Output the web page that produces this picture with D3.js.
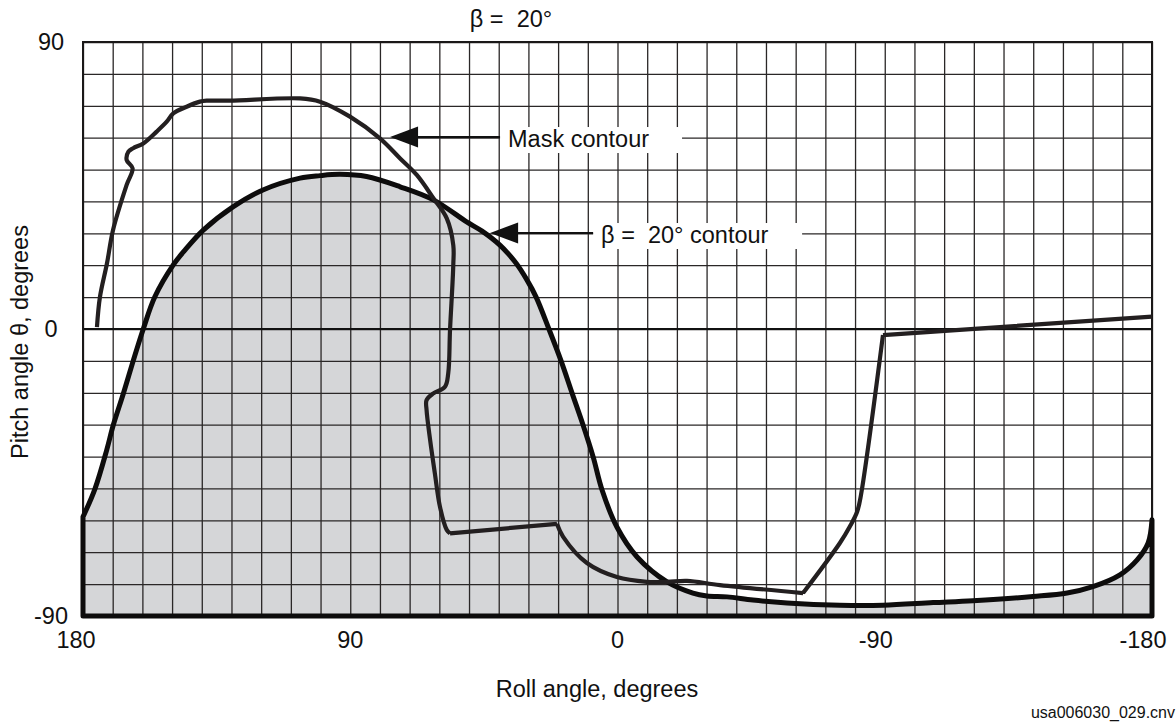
<!DOCTYPE html>
<meta charset="utf-8">
<title>Beta 20 deg contour</title>
<style>
  body { margin: 0; background: #fff; }
  svg text { font-family: "Liberation Sans", Arial, sans-serif; fill: #111; }
</style>
<svg width="1176" height="723"></svg>
<script src="https://d3js.org/d3.v7.min.js"></script>
<script>

// grid and tick values
var rollTicks = d3.range(-180, 181, 10),
    pitchTicks = d3.range(-90, 91, 10),
    rollLabels = [180, 90, 0, -90, -180],
    pitchLabels = [90, 0, -90];

// beta = 20 deg contour (roll, pitch)
var betaRoll  = [180, 176.0, 172.0, 169.8, 166.4, 163.1, 159.7, 155.8, 149.6, 145.6, 139.5, 129.5, 119.4, 106.9, 100.2, 93.4, 84.5, 73.2, 62.0, 50.8, 45.6, 39.6, 34.2, 30.5, 27.4, 23.1, 19.0, 15.3, 11.6, 8.2, 5.2, 0.2, -6.6, -16.7, -25.4, -30.1, -36.9, -45.6, -57.1, -74.9, -89.4, -106.3, -119.7, -139.9, -151.4, -160.1, -169.2, -175.0, -178.7, -180];
var betaPitch = [-58.9, -50.2, -37.9, -30.1, -20.2, -10.0, 0, 10.1, 20.1, 24.8, 31.0, 38.3, 43.6, 47.3, 48.1, 48.5, 47.8, 44.6, 40.5, 33.6, 30.7, 26.3, 20.7, 15.4, 10.0, 0, -10.0, -20.1, -30.1, -40.1, -50.5, -62.1, -71.5, -79.3, -82.8, -83.7, -84.0, -85.0, -85.9, -86.6, -86.6, -85.8, -85.2, -83.9, -82.8, -80.8, -77.1, -72.4, -67.1, -59.8];

// mask contour
var maskRoll  = [175.3, 174.3, 171.9, 169.9, 165.3, 163.3, 165.3, 164.7, 163.1, 159.7, 155.2, 151.8, 149.6, 145.1, 140.6, 138.3, 130.5, 106.9, 100.2, 90.1, 80.0, 73.2, 67.6, 62.0, 57.5, 55.3, 55.3, 56.4, 57.0, 58.1, 62.0, 64.3, 64.3, 63.1, 61.5, 59.8, 57.5, 56.4, 20.4, 18.3, 10.3, 0.2, -9.9, -16.7, -23.4, -34.5, -62.5, -74.9, -78.2, -80.7, -82.0, -89.4, -180];
var maskPitch = [0.6, 10.0, 20.7, 31.0, 45.2, 50.4, 53.0, 55.6, 56.7, 58.2, 61.9, 65.0, 67.6, 69.7, 71.3, 71.6, 71.6, 72.3, 71.3, 66.6, 59.8, 53.5, 48.3, 41.0, 34.7, 26.3, 20.1, -0.3, -13.9, -18.1, -20.2, -22.3, -25.4, -34.8, -45.3, -55.7, -63.0, -64.1, -61.1, -65.2, -73.4, -77.8, -79.3, -79.3, -79.0, -80.3, -82.8, -67.1, -62.0, -57.3, -52.0, -1.9, 3.9];
// points of the mask where it turns sharply
var maskCorners = [37, 38, 46, 51];

// labels pointing at the curves
var noteText  = ["Mask contour", "\u03b2 =  20\u00b0 contour"],
    noteRoll  = [76.6, 42.9],
    notePitch = [60.2, 30.1];

var svg = d3.select("svg");

var x = d3.scaleLinear().domain([180, -180]).range([83, 1152]),
    y = d3.scaleLinear().domain([-90, 90]).range([616, 42]);

var beta = betaRoll.map(function(r, i) { return [r, betaPitch[i]]; }),
    mask = maskRoll.map(function(r, i) { return [r, maskPitch[i]]; });

var area = d3.area()
    .x(function(d) { return x(d[0]); })
    .y0(y(-90))
    .y1(function(d) { return y(d[1]); })
    .curve(d3.curveCatmullRom.alpha(0.5));

var line = d3.line()
    .x(function(d) { return x(d[0]); })
    .y(function(d) { return y(d[1]); })
    .curve(d3.curveCatmullRom.alpha(0.5));

// shaded region below the beta contour
svg.append("path")
    .attr("d", area(beta))
    .attr("fill", "#d5d6d8");

// grid
svg.append("g")
    .attr("transform", "translate(0," + y(-90) + ")")
    .call(d3.axisBottom(x).tickValues(rollTicks).tickSize(-(y(-90) - y(90))).tickFormat(""))
    .call(function(g) { g.select(".domain").remove(); })
    .selectAll("line").attr("stroke", "#2a2727").attr("stroke-width", 1.3);

svg.append("g")
    .attr("transform", "translate(" + x(180) + ",0)")
    .call(d3.axisLeft(y).tickValues(pitchTicks).tickSize(-(x(-180) - x(180))).tickFormat(""))
    .call(function(g) { g.select(".domain").remove(); })
    .selectAll("line").attr("stroke", "#2a2727").attr("stroke-width", 1.3);

svg.append("line")
    .attr("x1", x(180)).attr("x2", x(-180))
    .attr("y1", y(0)).attr("y2", y(0))
    .attr("stroke", "#111").attr("stroke-width", 2);

svg.append("rect")
    .attr("x", x(180)).attr("y", y(90))
    .attr("width", x(-180) - x(180)).attr("height", y(-90) - y(90))
    .attr("fill", "none").attr("stroke", "#1a1818").attr("stroke-width", 2);

// contours
svg.append("path")
    .attr("d", area(beta))
    .attr("fill", "none")
    .attr("stroke", "#0d0c0c")
    .attr("stroke-width", 5)
    .attr("stroke-linejoin", "round");

// mask drawn piece by piece so the corners stay sharp
var cuts = [0].concat(maskCorners, [mask.length - 1]),
    pieces = d3.pairs(cuts).map(function(p) { return mask.slice(p[0], p[1] + 1); });

svg.append("path")
    .attr("d", pieces.map(function(p) { return line(p); }).join(""))
    .attr("fill", "none")
    .attr("stroke", "#231f20")
    .attr("stroke-width", 4.2)
    .attr("stroke-linejoin", "round");

// annotations
var gap = [110, 103], boxW = [182, 209];
noteText.forEach(function(t, i) {
  var tx = x(noteRoll[i]), ty = y(notePitch[i]);
  var g = svg.append("g");
  g.append("rect")
      .attr("x", tx + gap[i]).attr("y", ty - 10)
      .attr("width", boxW[i]).attr("height", 26)
      .attr("fill", "#fff");
  g.append("line")
      .attr("x1", tx + 26).attr("x2", tx + gap[i])
      .attr("y1", ty).attr("y2", ty)
      .attr("stroke", "#111").attr("stroke-width", 2);
  g.append("path")
      .attr("d", "M" + tx + "," + ty + "L" + (tx + 28) + "," + (ty - 10.5) + "L" + (tx + 28) + "," + (ty + 10.5) + "Z")
      .attr("fill", "#111");
  g.append("text")
      .attr("x", tx + gap[i] + 8).attr("y", ty + 10)
      .attr("font-size", 23.5)
      .style("white-space", "pre")
      .text(t);
});

// tick labels
svg.append("g").selectAll("text")
  .data(rollLabels)
  .enter().append("text")
    .attr("x", function(d) { return x(d); })
    .attr("dx", function(d) { return d < 0 ? -9 : (d === 180 ? -7 : 0); })
    .attr("y", y(-90) + 32)
    .attr("text-anchor", "middle")
    .attr("font-size", 23.5)
    .text(function(d) { return d; });

svg.append("g").selectAll("text")
  .data(pitchLabels)
  .enter().append("text")
    .attr("x", 51)
    .attr("y", function(d) { return y(d); })
    .attr("dy", "0.35em")
    .attr("text-anchor", "middle")
    .attr("font-size", 23.5)
    .text(function(d) { return d; });

// titles
svg.append("text")
    .attr("x", 511).attr("y", 27)
    .attr("text-anchor", "middle")
    .attr("font-size", 23.5)
    .style("white-space", "pre")
    .text("\u03b2 =  20\u00b0");

svg.append("text")
    .attr("x", 597).attr("y", 697)
    .attr("text-anchor", "middle")
    .attr("font-size", 23.5)
    .text("Roll angle, degrees");

svg.append("text")
    .attr("transform", "translate(28,342) rotate(-90)")
    .attr("text-anchor", "middle")
    .attr("font-size", 23.5)
    .text("Pitch angle \u03b8, degrees");

svg.append("text")
    .attr("x", 1175).attr("y", 718)
    .attr("text-anchor", "end")
    .attr("font-size", 16)
    .text("usa006030_029.cnv");

</script>
